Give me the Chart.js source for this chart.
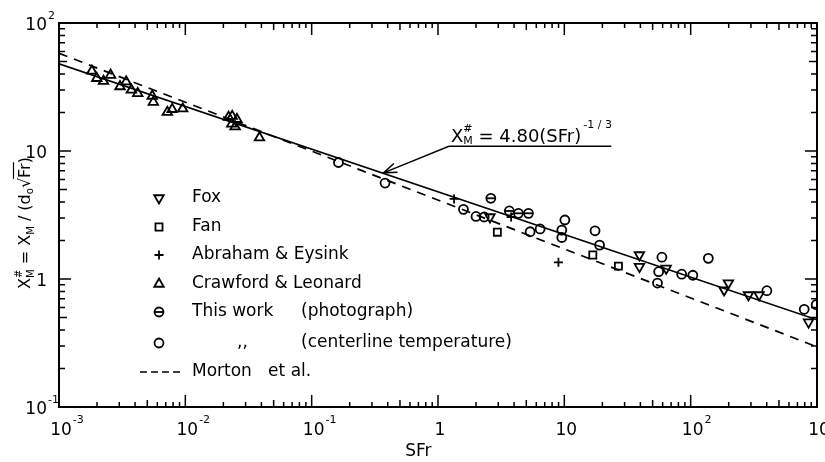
<!DOCTYPE html>
<html>
<head>
<meta charset="utf-8">
<script src="https://cdn.jsdelivr.net/npm/chart.js@4/dist/chart.umd.min.js"></script>
<style>
  body { margin: 0; background: #fff; }
  #wrap { width: 825px; height: 462px; }
</style>
</head>
<body>
<div id="wrap"><canvas id="chart" width="825" height="462"></canvas></div>
<script>
// axis ticks (log decades)
const xTickValues = [1e-3, 1e-2, 1e-1, 1, 10, 1e2, 1e3];
const xTickBase = ['10', '10', '10', '1', '10', '10', '10'];
const xTickExp = ['-3', '-2', '-1', '', '', '2', '3'];
const yTickValues = [0.1, 1, 10, 100];
const yTickBase = ['10', '1', '10', '10'];
const yTickExp = ['-1', '', '', '2'];

// Fox
const foxSFr = [2.58, 39.3, 39.3, 64.0, 199, 184, 287, 348, 857];
const foxXM = [3.05, 1.54, 1.25, 1.21, 0.93, 0.82, 0.75, 0.75, 0.46];
// Fan
const fanSFr = [2.95, 16.8, 26.8];
const fanXM = [2.32, 1.54, 1.26];
// Abraham & Eysink
const abrahamSFr = [1.34, 3.79, 8.98];
const abrahamXM = [4.22, 3.05, 1.35];
// Crawford & Leonard
const crawfordSFr = [0.00182, 0.00199, 0.00225, 0.00256, 0.00304, 0.0034, 0.00374, 0.0042, 0.00547, 0.00558,
  0.0072, 0.00787, 0.00953, 0.022, 0.0233, 0.0256, 0.0248, 0.0235, 0.0386];
const crawfordXM = [42.2, 37.0, 35.1, 39.2, 31.9, 34.8, 30.0, 28.2, 26.9, 24.1,
  20.1, 21.2, 21.4, 18.4, 16.3, 17.7, 15.5, 18.7, 12.7];
// This work (photograph)
const photoSFr = [2.62, 3.67, 4.33, 5.20];
const photoXM = [4.27, 3.40, 3.26, 3.26];
// This work (centerline temperature)
const centerSFr = [0.163, 0.381, 1.59, 2.00, 2.32, 5.36, 6.43, 10.1, 9.55, 9.55, 17.5, 19.0,
  59.2, 55.8, 54.6, 84.9, 104, 138, 401, 792, 986];
const centerXM = [8.13, 5.62, 3.50, 3.08, 3.05, 2.34, 2.46, 2.89, 2.41, 2.11, 2.38, 1.84,
  1.48, 1.14, 0.93, 1.09, 1.07, 1.45, 0.81, 0.58, 0.63];
// correlation X#M = 4.80 (SFr)^-1/3 and Morton et al.
const fitSFr = [1e-3, 1e3];
const fitXM = [48.0, 0.48];
const mortonSFr = [1e-3, 1e3];
const mortonXM = [58.0, 0.295];
// arrow target and label anchor of the annotation
const annotTarget = [0.37, 6.75];
const annotAnchor = [1.22, 10.9];

const FONT = '"DejaVu Sans", sans-serif';

const pts = (xs, ys) => xs.map((v, i) => ({ x: v, y: ys[i] }));

const markerBase = { borderColor: '#000', backgroundColor: 'rgba(0,0,0,0)', borderWidth: 1.8, showLine: false };

const datasets = [
  { label: 'fit', data: pts(fitSFr, fitXM), showLine: true, borderColor: '#000', borderWidth: 1.7, pointRadius: 0 },
  { label: 'Morton et al.', data: pts(mortonSFr, mortonXM), showLine: true, borderColor: '#000', borderWidth: 1.7,
    borderDash: [9, 7], pointRadius: 0 },
  { ...markerBase, label: 'Fox', data: pts(foxSFr, foxXM), pointStyle: 'triangle', rotation: 180, pointRadius: 5.5 },
  { ...markerBase, label: 'Fan', data: pts(fanSFr, fanXM), pointStyle: 'rect', pointRadius: 5 },
  { ...markerBase, label: 'Abraham & Eysink', data: pts(abrahamSFr, abrahamXM), pointStyle: 'cross', pointRadius: 4.5 },
  { ...markerBase, label: 'Crawford & Leonard', data: pts(crawfordSFr, crawfordXM), pointStyle: 'triangle', pointRadius: 5.5 },
  { ...markerBase, label: 'This work (photograph)', data: pts(photoSFr, photoXM), pointStyle: 'circle', pointRadius: 4.5 },
  { ...markerBase, label: 'photograph bar', data: pts(photoSFr, photoXM), pointStyle: 'line', pointRadius: 4.5 },
  { ...markerBase, label: ',, (centerline temperature)', data: pts(centerSFr, centerXM), pointStyle: 'circle', pointRadius: 4.5 }
];

// text pieces: [text, size, dy, advance]
function drawRich(ctx, parts, x, y) {
  let cx = x;
  parts.forEach(p => {
    ctx.font = p[1] + 'px ' + FONT;
    ctx.fillText(p[0], cx, y + (p[2] || 0));
    if (p[3] !== false) cx += ctx.measureText(p[0]).width;
  });
  return cx;
}

function legendMark(ctx, ds, px, py) {
  ctx.save();
  ctx.strokeStyle = '#000';
  ctx.fillStyle = 'rgba(0,0,0,0)';
  ctx.lineWidth = ds.borderWidth;
  Chart.helpers.drawPoint(ctx, {
    pointStyle: ds.pointStyle, rotation: ds.rotation || 0, radius: ds.pointRadius, borderWidth: ds.borderWidth
  }, px, py);
  ctx.restore();
}

const frame = {
  id: 'frame',
  afterDraw(chart) {
    const { ctx, chartArea: a, scales: { x, y } } = chart;
    const sets = chart.data.datasets;
    ctx.save();
    ctx.strokeStyle = '#000';
    ctx.fillStyle = '#000';

    // box
    ctx.lineWidth = 2;
    ctx.strokeRect(a.left, a.top, a.right - a.left, a.bottom - a.top);

    // inward ticks on all four sides
    ctx.lineWidth = 1.5;
    ctx.beginPath();
    for (let e = -3; e <= 3; e++) {
      for (let m = 1; m <= 9; m++) {
        const v = m * Math.pow(10, e);
        if (v > 1000.01) continue;
        const len = m === 1 ? 12 : (m === 5 ? 7 : 5);
        const px = x.getPixelForValue(v);
        ctx.moveTo(px, a.bottom); ctx.lineTo(px, a.bottom - len);
        ctx.moveTo(px, a.top); ctx.lineTo(px, a.top + len);
      }
    }
    for (let e = -1; e <= 2; e++) {
      for (let m = 1; m <= 9; m++) {
        const v = m * Math.pow(10, e);
        if (v > 100.01) continue;
        const len = m === 1 ? 12 : (m === 5 ? 8 : 6);
        const py = y.getPixelForValue(v);
        ctx.moveTo(a.left, py); ctx.lineTo(a.left + len, py);
        ctx.moveTo(a.right, py); ctx.lineTo(a.right - len, py);
      }
    }
    ctx.stroke();

    // tick labels
    ctx.textBaseline = 'alphabetic';
    xTickValues.forEach((v, i) => {
      const px = x.getPixelForValue(v);
      ctx.font = '17px ' + FONT;
      const w = ctx.measureText(xTickBase[i]).width;
      ctx.textAlign = 'left';
      ctx.fillText(xTickBase[i], px - w / 2 + 2, a.bottom + 28);
      if (xTickExp[i]) {
        ctx.font = '11px ' + FONT;
        ctx.fillText(xTickExp[i], px + w / 2 + 3, a.bottom + 16);
      }
    });
    yTickValues.forEach((v, i) => {
      const py = y.getPixelForValue(v);
      ctx.font = '17px ' + FONT;
      ctx.textAlign = 'right';
      ctx.fillText(yTickBase[i], a.left - 12, py + 7);
      if (yTickExp[i]) {
        ctx.font = '11px ' + FONT;
        ctx.textAlign = 'left';
        ctx.fillText(yTickExp[i], a.left - 11, py - 4);
      }
    });

    // x title
    ctx.font = '17px ' + FONT;
    ctx.textAlign = 'center';
    ctx.fillText('SFr', x.getPixelForValue(0.7), a.bottom + 49);

    // y title (rotated)
    ctx.save();
    ctx.translate(a.left - 35, (a.top + a.bottom) / 2 + 8);
    ctx.rotate(-Math.PI / 2);
    ctx.textAlign = 'left';
    const yParts = [['X', 16], ['#', 10, -8, false], ['M', 10, 4], [' = X', 16], ['M', 10, 4],
      [' / (d', 16], ['o', 10, 3], ['√', 16]];
    let total = 0;
    yParts.concat([['Fr)', 16]]).forEach(p => {
      ctx.font = p[1] + 'px ' + FONT;
      if (p[3] !== false) total += ctx.measureText(p[0]).width;
    });
    const afterRoot = drawRich(ctx, yParts, -total / 2, 6);
    ctx.font = '16px ' + FONT;
    const frW = ctx.measureText('Fr').width;
    ctx.fillText('Fr)', afterRoot, 6);
    ctx.lineWidth = 1.2;
    ctx.beginPath();
    ctx.moveTo(afterRoot - 1, -10.5);
    ctx.lineTo(afterRoot + frW + 1, -10.5);
    ctx.stroke();
    ctx.restore();

    // legend
    const lx = a.left + 100, tx = a.left + 133;
    const rows = [175, 204, 232, 261, 289, 320, 349];
    const legendSets = [[2], [3], [4], [5], [6, 7], [8]];
    const labels = ['Fox', 'Fan', 'Abraham & Eysink', 'Crawford & Leonard', 'This work', ',,'];
    ctx.textAlign = 'left';
    ctx.textBaseline = 'middle';
    legendSets.forEach((ids, i) => {
      const ry = a.top + rows[i];
      ids.forEach(di => legendMark(ctx, sets[di], lx, ry));
      ctx.fillStyle = '#000';
      ctx.font = '17px ' + FONT;
      ctx.fillText(labels[i], i === 5 ? tx + 45 : tx, ry);
    });
    ctx.fillText('(photograph)', a.left + 242, a.top + rows[4]);
    ctx.fillText('(centerline temperature)', a.left + 242, a.top + rows[5]);
    const my = a.top + rows[6];
    ctx.lineWidth = 1.6;
    ctx.setLineDash([7, 4]);
    ctx.beginPath();
    ctx.moveTo(lx - 19, my); ctx.lineTo(lx + 22, my);
    ctx.stroke();
    ctx.setLineDash([]);
    ctx.fillText('Morton   et al.', tx, my);

    // annotation with arrow
    ctx.textBaseline = 'alphabetic';
    const ax = x.getPixelForValue(annotAnchor[0]);
    const ay = y.getPixelForValue(annotAnchor[1]);
    const endX = drawRich(ctx, [['X', 18], ['#', 11, -10, false], ['M', 11, 2], [' = 4.80(SFr)', 18]], ax + 2, ay - 4);
    ctx.font = '11px ' + FONT;
    ctx.fillText('-1 / 3', endX + 2, ay - 18);
    const tipX = x.getPixelForValue(annotTarget[0]);
    const tipY = y.getPixelForValue(annotTarget[1]);
    ctx.lineWidth = 1.5;
    ctx.beginPath();
    ctx.moveTo(endX + 30, ay);
    ctx.lineTo(ax, ay);
    ctx.lineTo(tipX, tipY);
    const ang = Math.atan2(ay - tipY, ax - tipX);
    ctx.moveTo(tipX + 14 * Math.cos(ang - 0.35), tipY + 14 * Math.sin(ang - 0.35));
    ctx.lineTo(tipX, tipY);
    ctx.lineTo(tipX + 14 * Math.cos(ang + 0.35), tipY + 14 * Math.sin(ang + 0.35));
    ctx.stroke();

    ctx.restore();
  }
};

new Chart(document.getElementById('chart'), {
  type: 'scatter',
  data: { datasets: datasets },
  options: {
    responsive: false,
    animation: false,
    layout: { padding: { left: 59, top: 23, right: 8, bottom: 55 } },
    plugins: { legend: { display: false }, tooltip: { enabled: false } },
    scales: {
      x: {
        type: 'logarithmic', min: 1e-3, max: 1e3,
        grid: { display: false, drawTicks: false },
        border: { display: false },
        ticks: { display: false }
      },
      y: {
        type: 'logarithmic', min: 0.1, max: 100,
        grid: { display: false, drawTicks: false },
        border: { display: false },
        ticks: { display: false }
      }
    }
  },
  plugins: [frame]
});
</script>
</body>
</html>
